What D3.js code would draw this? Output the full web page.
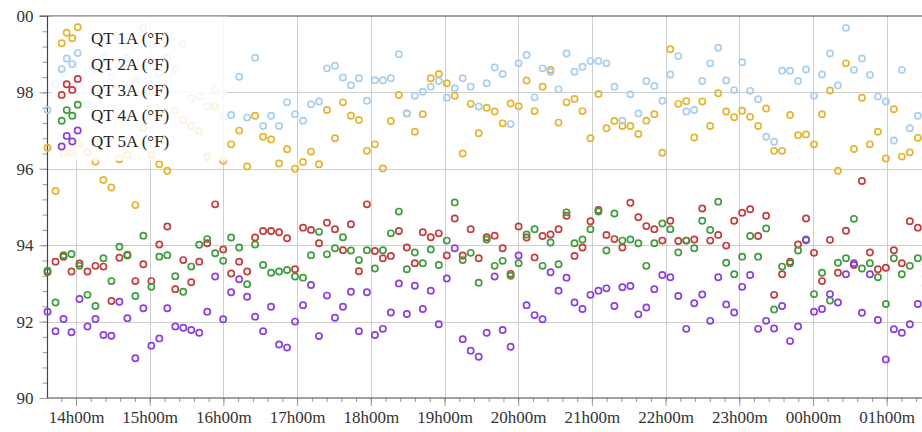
<!DOCTYPE html>
<html><head><meta charset="utf-8">
<script src="https://cdn.jsdelivr.net/npm/d3@7"></script>
<style>
body{margin:0;background:#fff;overflow:hidden}
svg{display:block}
text{font-family:"Liberation Serif","Times New Roman",serif}
</style>
</head><body>
<svg id="chart" width="922" height="432"></svg>
<script>
const seriesNames = ["QT 1A (°F)", "QT 2A (°F)", "QT 3A (°F)", "QT 4A (°F)", "QT 5A (°F)"];
const seriesColors = ["#e6b530", "#a8cff0", "#c63c3c", "#3f9c3f", "#8b3fe0"];
const startTime = "2024-01-01 13:36:50";
const intervalSeconds = 390;
const yTickValues = [90, 92, 94, 96, 98, 100];

const qt1A = [96.55,95.42,96.41,96.43,96.67,96.43,96.19,95.71,95.51,96.25,96.36,95.05,97.06,96.36,96.12,95.95,97.53,97.28,97.13,96.99,
96.32,97.63,96.21,96.64,97.0,96.06,97.39,96.84,96.77,96.14,96.51,96.0,96.18,96.45,96.12,97.54,96.8,97.74,97.39,97.28,
96.47,96.64,96.01,97.25,97.93,97.45,96.97,97.43,98.37,98.48,98.24,97.91,96.4,97.7,96.93,97.6,97.5,97.19,97.71,97.64,
98.31,97.51,98.15,98.59,97.21,97.74,97.83,97.51,96.8,97.96,97.06,97.25,97.12,97.12,96.91,97.26,97.43,96.42,99.13,97.7,
97.77,96.82,97.76,97.12,97.98,97.5,97.35,97.52,97.36,97.12,97.58,96.47,96.47,97.41,96.88,96.9,96.64,97.43,98.05,95.95,
98.76,96.52,97.86,96.64,96.97,96.27,97.56,96.32,96.43,96.81,97.0];
const qt2A = [97.54,98.22,98.5,98.8,98.2,97.69,98.6,98.9,98.4,98.7,98.9,98.32,99.68,98.8,98.5,98.9,98.6,99.26,97.85,97.89,
97.63,98.06,97.36,97.41,98.41,97.34,98.91,97.12,97.39,97.12,97.74,97.43,97.26,97.69,97.76,98.63,98.7,98.39,98.19,98.37,
97.78,98.32,98.32,98.37,99.0,97.45,97.91,98.02,98.15,98.3,97.86,98.11,98.37,98.15,97.63,98.24,98.65,98.48,97.17,98.76,
98.98,97.87,98.63,98.54,98.08,99.02,98.54,98.67,98.82,98.82,98.76,98.15,97.26,97.95,97.45,98.3,98.17,97.78,98.47,98.95,
97.5,97.54,98.3,98.76,99.17,98.31,98.06,98.79,98.04,97.82,96.84,96.71,98.57,98.57,98.3,98.6,97.91,98.47,99.02,98.18,
99.69,98.59,98.89,98.46,97.89,97.76,96.74,98.59,97.06,97.39,97.9];
const qt3A = [93.3,93.57,93.7,93.31,93.52,93.31,93.46,93.44,92.54,93.67,93.75,93.06,93.5,93.06,94.02,94.49,92.85,93.61,93.03,93.57,
94.05,95.07,93.89,93.26,93.57,93.31,94.2,94.37,94.37,94.34,94.18,93.37,94.46,94.4,94.05,94.59,94.42,93.87,94.55,93.32,
95.07,93.85,93.66,93.72,94.37,93.94,93.53,94.34,94.21,94.31,93.73,94.7,93.73,94.42,93.66,94.21,94.25,93.92,93.25,94.49,
94.2,93.68,94.24,94.28,94.42,94.77,93.72,93.94,94.63,94.92,94.27,94.16,93.94,95.11,94.73,94.5,94.42,94.12,94.64,94.11,
94.12,94.15,94.96,94.12,94.27,93.99,94.64,94.85,94.94,94.24,94.77,92.7,93.24,93.57,94.02,94.7,93.8,93.06,94.14,93.28,
94.38,93.48,95.68,93.81,93.37,93.41,93.87,93.53,94.63,94.46,92.94];
const qt4A = [93.33,92.5,93.74,93.77,93.46,92.7,92.41,93.66,93.06,93.96,93.73,92.67,94.25,92.91,93.7,93.74,93.19,92.78,93.44,94.01,
94.16,93.79,93.59,94.2,93.94,92.98,94.02,93.48,93.28,93.31,93.35,93.18,93.15,93.74,94.35,93.76,93.92,94.21,93.86,93.61,
93.87,93.39,93.87,94.31,94.88,93.37,93.81,93.53,93.89,93.48,94.12,95.12,93.61,93.8,93.02,94.15,93.46,93.59,93.2,93.53,
94.28,94.42,93.46,94.07,93.5,94.86,94.05,94.15,94.42,94.88,93.86,94.83,94.12,94.15,94.05,93.46,94.05,94.57,94.42,93.81,
94.12,93.92,94.64,94.4,95.14,93.54,93.24,93.7,94.24,93.7,94.44,92.32,93.44,93.53,93.86,94.15,92.72,93.28,92.55,93.54,
93.66,94.69,93.39,93.53,93.16,92.46,93.66,93.24,93.46,93.66,93.5];
const qt5A = [92.26,91.75,92.07,91.72,92.59,91.87,92.07,91.65,91.63,92.52,92.09,91.04,92.35,91.37,91.56,92.35,91.87,91.84,91.78,91.71,
92.26,93.18,92.06,92.77,93.11,92.65,92.13,91.75,92.39,91.4,91.32,92.0,92.43,92.96,91.62,92.68,92.1,92.39,92.78,91.75,
92.77,91.65,91.81,92.24,93.0,92.2,92.94,92.33,92.81,91.93,93.13,93.92,91.54,91.24,91.08,91.71,93.18,91.78,91.34,93.73,
92.43,92.17,92.06,93.29,92.81,93.15,92.5,92.33,92.7,92.81,92.87,92.41,92.9,92.93,92.19,92.37,92.85,93.22,93.16,92.67,
91.81,92.48,92.71,92.02,93.16,92.45,92.24,92.91,93.22,91.81,92.02,91.82,92.41,91.49,91.87,94.13,92.26,92.33,92.72,92.5,
93.24,93.53,92.23,93.24,92.04,91.01,91.8,91.71,91.93,92.46,93.19];

const seriesValues = [qt1A, qt2A, qt3A, qt4A, qt5A];

const W = 922, H = 432;
const plotLeft = 47.5, plotTop = 16, plotBottom = 398;
const t0 = d3.timeParse("%Y-%m-%d %H:%M:%S")(startTime);
const times = qt1A.map((_, i) => new Date(t0.getTime() + i * intervalSeconds * 1000));

const x = d3.scaleTime()
  .domain([new Date(2024, 0, 1, 14, 0, 0), new Date(2024, 0, 2, 1, 0, 0)])
  .range([76, 886.7]);
const y = d3.scaleLinear().domain([90, 100]).range([plotBottom, plotTop]);

const svg = d3.select("#chart");
const tStart = x.invert(plotLeft), tEnd = x.invert(W + 5);

// grid
const hours = d3.timeHour.range(d3.timeHour.ceil(tStart), tEnd);
const minors = d3.timeMinute.every(12).range(d3.timeMinute.ceil(tStart), tEnd);
const grid = svg.append("g");
grid.selectAll("line.v").data(hours).join("line")
  .attr("x1", d => Math.round(x(d)) + 0.5).attr("x2", d => Math.round(x(d)) + 0.5)
  .attr("y1", plotTop).attr("y2", plotBottom)
  .attr("stroke", "#cfcfcf").attr("stroke-width", 1);
grid.selectAll("line.h").data(yTickValues.filter(v => v > 90 && v < 100)).join("line")
  .attr("x1", plotLeft).attr("x2", W)
  .attr("y1", d => Math.round(y(d)) + 0.5).attr("y2", d => Math.round(y(d)) + 0.5)
  .attr("stroke", "#cfcfcf").attr("stroke-width", 1);

// x axis
const xMinorAxis = d3.axisBottom(x).tickValues(minors).tickSize(4).tickFormat("");
const xAxis = d3.axisBottom(x).tickValues(hours).tickSize(8).tickPadding(5)
  .tickFormat(d3.timeFormat("%Hh%Mm"));
const gxm = svg.append("g").attr("transform", `translate(0,${plotBottom})`).call(xMinorAxis);
const gx = svg.append("g").attr("transform", `translate(0,${plotBottom})`).call(xAxis);
[gxm, gx].forEach(g => {
  g.select(".domain").remove();
  g.selectAll(".tick line").attr("stroke", "#999");
});
gx.selectAll("text").attr("font-size", 17).attr("fill", "#333")
  .attr("font-family", '"Liberation Serif","Times New Roman",serif');

// y axis (labels clipped at the left edge of the chart area, as in the original)
svg.append("clipPath").attr("id", "yclip").append("rect")
  .attr("x", 15.5 - plotLeft).attr("y", 0).attr("width", W).attr("height", H);
const yMinorAxis = d3.axisLeft(y).tickValues(d3.range(0, 26).map(i => 90 + i * 0.4)).tickSize(5).tickFormat("");
const yAxis = d3.axisLeft(y).tickValues(yTickValues).tickSize(8).tickPadding(6).tickFormat(d3.format("d"));
const gym = svg.append("g").attr("transform", `translate(${plotLeft},0)`).call(yMinorAxis);
const gy = svg.append("g").attr("transform", `translate(${plotLeft},0)`).attr("clip-path", "url(#yclip)").call(yAxis);
[gym, gy].forEach(g => {
  g.select(".domain").remove();
  g.selectAll(".tick line").attr("stroke", "#999");
});
gy.selectAll("text").attr("font-size", 17).attr("fill", "#333")
  .attr("font-family", '"Liberation Serif","Times New Roman",serif');

// frame lines
svg.append("line").attr("x1", plotLeft).attr("x2", plotLeft).attr("y1", plotTop).attr("y2", plotBottom)
  .attr("stroke", "#444").attr("stroke-width", 1.2);
svg.append("line").attr("x1", plotLeft).attr("x2", W).attr("y1", plotBottom).attr("y2", plotBottom)
  .attr("stroke", "#444").attr("stroke-width", 1.2);
svg.append("line").attr("x1", plotLeft - 8).attr("x2", W).attr("y1", plotTop).attr("y2", plotTop)
  .attr("stroke", "#444").attr("stroke-width", 1.2);

// points
const pts = svg.append("g");
seriesValues.forEach((vals, si) => {
  pts.append("g").selectAll("circle").data(vals.map((v, i) => [times[i], v])).join("circle")
    .attr("cx", d => x(d[0])).attr("cy", d => y(d[1])).attr("r", 3.1)
    .attr("fill", "none").attr("stroke", seriesColors[si]).attr("stroke-width", 1.7);
});

// legend
const lg = svg.append("g");
lg.append("rect").attr("x", 52).attr("y", plotTop + 0.6).attr("width", 175).attr("height", 144)
  .attr("fill", "#fff").attr("fill-opacity", 0.82);
const iconOffsets = [[61.7, 5], [66.7, -5.6], [72.3, 0], [77.7, -11]];
seriesNames.forEach((name, i) => {
  const cy = 38.3 + i * 25.8;
  lg.append("g").selectAll("circle").data(iconOffsets).join("circle")
    .attr("cx", d => d[0]).attr("cy", d => cy + d[1]).attr("r", 3.1)
    .attr("fill", "none").attr("stroke", seriesColors[i]).attr("stroke-width", 1.7);
  lg.append("text").attr("x", 91).attr("y", cy).attr("dy", "0.33em")
    .attr("font-size", 17).attr("fill", "#222").text(name);
});
</script>
</body></html>
